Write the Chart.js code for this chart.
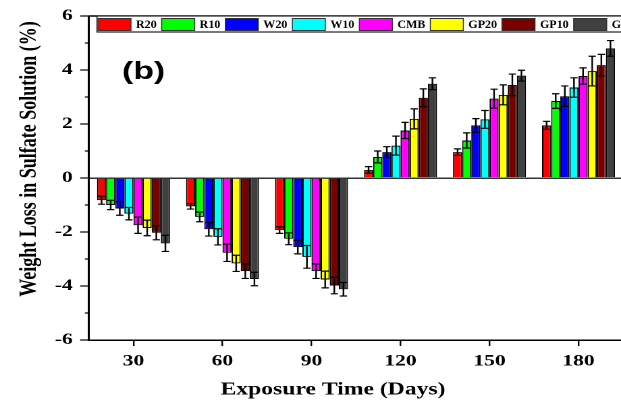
<!DOCTYPE html>
<html>
<head>
<meta charset="utf-8">
<script src="https://cdn.jsdelivr.net/npm/chart.js@4.4.1/dist/chart.umd.min.js"></script>
<style>
  html, body { margin: 0; padding: 0; background: #fff; overflow: hidden; }
  #wrap { width: 462px; height: 401px; transform: scaleX(1.35); transform-origin: 0 0; }
</style>
</head>
<body>
<div id="wrap"><canvas id="chart" width="462" height="401"></canvas></div>
<script>
// exposure days on the x axis
var categories = ['30', '60', '90', '120', '150', '180'];
var yTickLabels = [-6, -4, -2, 0, 2, 4, 6];

var seriesNames = ['R20', 'R10', 'W20', 'W10', 'CMB', 'GP20', 'GP10', 'GP5'];
var seriesColors = ['#ff0000', '#00ff00', '#0000ff', '#00ffff', '#ff00ff', '#ffff00', '#7a0000', '#404040'];

// weight loss (%) per series
var r20  = [-0.82, -1.05, -1.93, 0.30, 0.96, 1.95];
var r10  = [-1.00, -1.44, -2.25, 0.78, 1.39, 2.85];
var w20  = [-1.13, -1.90, -2.56, 0.96, 1.95, 3.03];
var w10  = [-1.32, -2.18, -2.92, 1.20, 2.17, 3.35];
var cmb  = [-1.75, -2.77, -3.45, 1.76, 2.94, 3.78];
var gp20 = [-1.85, -3.16, -3.76, 2.19, 3.08, 3.96];
var gp10 = [-2.03, -3.45, -3.98, 2.97, 3.45, 4.18];
var gp5  = [-2.42, -3.74, -4.12, 3.49, 3.79, 4.80];

// error bar half heights
var r20Err  = [0.15, 0.10, 0.12, 0.12, 0.12, 0.15];
var r10Err  = [0.17, 0.18, 0.22, 0.22, 0.28, 0.27];
var w20Err  = [0.25, 0.25, 0.25, 0.20, 0.25, 0.38];
var w10Err  = [0.23, 0.30, 0.42, 0.35, 0.33, 0.36];
var cmbErr  = [0.30, 0.32, 0.27, 0.30, 0.35, 0.30];
var gp20Err = [0.29, 0.30, 0.31, 0.37, 0.37, 0.55];
var gp10Err = [0.26, 0.27, 0.31, 0.33, 0.40, 0.40];
var gp5Err  = [0.30, 0.25, 0.25, 0.22, 0.20, 0.29];

var seriesValues = [r20, r10, w20, w10, cmb, gp20, gp10, gp5];
var seriesErrors = [r20Err, r10Err, w20Err, w10Err, cmbErr, gp20Err, gp10Err, gp5Err];

var STRETCH = 1.35;
var serif = '"Liberation Serif", "Times New Roman", serif';

var datasets = seriesNames.map(function (name, i) {
  return {
    label: name,
    data: seriesValues[i],
    errors: seriesErrors[i],
    backgroundColor: seriesColors[i],
    borderColor: '#000',
    borderWidth: 1
  };
});

var decorPlugin = {
  id: 'decor',
  afterDatasetsDraw: function (chart) {
    var ctx = chart.ctx;
    var y = chart.scales.y;
    ctx.save();
    ctx.strokeStyle = '#000';
    ctx.lineWidth = 1.2;
    chart.data.datasets.forEach(function (ds, i) {
      var meta = chart.getDatasetMeta(i);
      meta.data.forEach(function (bar, j) {
        var v = ds.data[j], e = ds.errors[j];
        var top = y.getPixelForValue(v + e);
        var bot = y.getPixelForValue(v - e);
        var hw = bar.width * 0.4;
        ctx.beginPath();
        ctx.moveTo(bar.x, top); ctx.lineTo(bar.x, bot);
        ctx.moveTo(bar.x - hw, top); ctx.lineTo(bar.x + hw, top);
        ctx.moveTo(bar.x - hw, bot); ctx.lineTo(bar.x + hw, bot);
        ctx.stroke();
      });
    });
    ctx.restore();
  },
  afterDraw: function (chart) {
    var ctx = chart.ctx;
    var area = chart.chartArea;
    var y = chart.scales.y;
    ctx.save();

    // top frame
    ctx.strokeStyle = '#000';
    ctx.lineWidth = 1.5;
    ctx.beginPath();
    ctx.moveTo(area.left, area.top);
    ctx.lineTo(area.right, area.top);
    ctx.stroke();

    // y ticks, major and minor
    ctx.lineWidth = 1.2;
    y.ticks.forEach(function (t) {
      var py = y.getPixelForValue(t.value);
      var len = yTickLabels.indexOf(t.value) >= 0 ? 6.5 : 3;
      ctx.beginPath();
      ctx.moveTo(area.left, py);
      ctx.lineTo(area.left - len, py);
      ctx.stroke();
    });

    // axis titles
    ctx.fillStyle = '#000';
    ctx.textAlign = 'center';
    ctx.textBaseline = 'middle';
    ctx.font = 'bold 17.5px ' + serif;
    ctx.fillText('Exposure Time (Days)', 333 / STRETCH, 390);
    ctx.save();
    ctx.translate(22, 159);
    ctx.rotate(-Math.PI / 2);
    ctx.font = 'bold 18px ' + serif;
    ctx.fillText('Weight Loss in Sulfate Solution (%)', 0, 0);
    ctx.restore();

    // panel label
    ctx.font = 'bold 25px "Liberation Sans", Arial, sans-serif';
    ctx.textAlign = 'left';
    ctx.fillText('(b)', 122 / STRETCH, 72);

    // legend strip (drawn unstretched)
    ctx.scale(1 / STRETCH, 1);
    ctx.fillStyle = '#fff';
    ctx.fillRect(97, 16, 700, 16);
    ctx.strokeStyle = '#222';
    ctx.lineWidth = 1.2;
    ctx.strokeRect(97, 16, 700, 16);
    ctx.font = 'bold 12px ' + serif;
    ctx.textBaseline = 'middle';
    var x = 98;
    chart.data.datasets.forEach(function (ds) {
      ctx.fillStyle = ds.backgroundColor;
      ctx.fillRect(x, 18.5, 33, 12);
      ctx.strokeStyle = '#333';
      ctx.lineWidth = 1;
      ctx.strokeRect(x, 18.5, 33, 12);
      ctx.fillStyle = '#000';
      ctx.fillText(ds.label, x + 38, 25);
      x = x + 38 + ctx.measureText(ds.label).width + 5;
    });
    ctx.restore();
  }
};

new Chart(document.getElementById('chart'), {
  type: 'bar',
  data: { labels: categories, datasets: datasets },
  options: {
    responsive: false,
    animation: false,
    devicePixelRatio: 2,
    layout: { padding: { top: 16, right: 0.5, left: 0, bottom: 0 } },
    plugins: { legend: { display: false }, tooltip: { enabled: false } },
    datasets: { bar: { categoryPercentage: 0.82, barPercentage: 1 } },
    scales: {
      x: {
        grid: { offset: false, drawOnChartArea: false, drawTicks: true, tickLength: 6, color: '#000', lineWidth: 1.2 },
        border: { display: true, color: '#000', width: 1.5 },
        ticks: { color: '#000', padding: 6, maxRotation: 0, font: { family: serif, size: 16, weight: 'bold' } },
        afterFit: function (s) { s.height = 61; }
      },
      y: {
        min: -6,
        max: 6,
        ticks: {
          stepSize: 1, autoSkip: false, padding: 12, color: '#000',
          font: { family: serif, size: 16, weight: 'bold' },
          callback: function (v) { return yTickLabels.indexOf(v) >= 0 ? String(v) : ''; }
        },
        grid: {
          drawTicks: false,
          lineWidth: 1.5,
          color: function (c) { return c.tick && c.tick.value === 0 ? '#333' : 'rgba(0,0,0,0)'; }
        },
        border: { display: true, color: '#000', width: 1.5 },
        afterFit: function (s) {
          s.width = 65.9;
          s.paddingTop = 0;
          s.paddingBottom = 0;
        }
      }
    }
  },
  plugins: [decorPlugin]
});
</script>
</body>
</html>
